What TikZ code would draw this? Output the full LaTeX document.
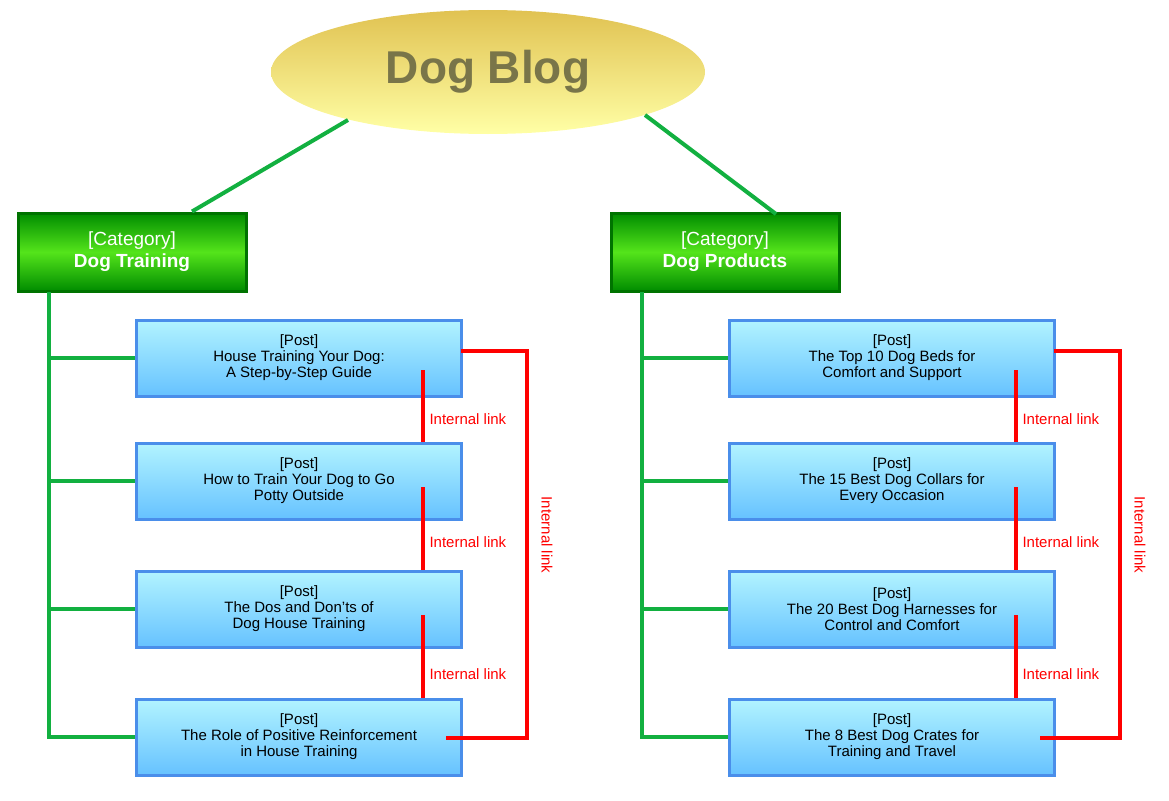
\documentclass[tikz,border=0pt]{standalone}
\usepackage{fontspec}
\setmainfont{Liberation Sans}
\usetikzlibrary{shapes.geometric,positioning,calc}
\definecolor{treegreen}{HTML}{12B040}
\definecolor{boxblue}{HTML}{4A8EEA}
\definecolor{linkred}{HTML}{FF0000}
\tikzset{
  Blog/.style={ellipse, minimum width=434pt, minimum height=124pt, top color=yellow!40!brown!80!white, bottom color=yellow!35!white, draw=none, text=yellow!40!black, font=\fontsize{46}{50}\selectfont\bfseries},
  Category/.style={draw=green!45!black, line width=3pt, minimum width=228pt, minimum height=78pt, top color=green!55!black, bottom color=green!55!black, middle color=green!70!gray!70!lime, text=white, align=center, font=\fontsize{19}{22}\selectfont},
  Post/.style={draw=boxblue, line width=3pt, minimum width=325pt, minimum height=76pt, top color=blue!15!cyan!30!white, bottom color=blue!40!cyan!60!white, align=center, font=\fontsize{15}{16}\selectfont},
  Tree/.style={treegreen, line width=4pt},
  Link/.style={linkred, line width=4pt},
  LinkLabel/.style={text=linkred, font=\fontsize{15}{16}\selectfont},
}
\begin{document}
\begin{tikzpicture}[x=1pt, y=-1pt]
\useasboundingbox (0,0) rectangle (1169,800);
\node [Blog] (blog) at (488,72) {Dog Blog};
\node [Category] (training) at (132,252) {[Category]\\\textbf{Dog Training}};
\node [Category] (products) at (725,252) {[Category]\\\textbf{Dog Products}};
\draw [Tree] (348,120) -- (training.north east -| 192,0);
\draw [Tree] (645,115) -- (776,214);
% posts
\foreach \side/\x/\tx/\ly/\lx in {t/299/49/1/423, p/892/642/2/1016} {
  \foreach \i/\y in {1/358, 2/481, 3/609, 4/737} {
    \node [Post] (\side\i) at (\x,\y) {};
  }
}
\node [align=center, font=\fontsize{15}{16}\selectfont] at (t1) {[Post]\\House Training Your Dog:\\A Step-by-Step Guide};
\node [align=center, font=\fontsize{15}{16}\selectfont] at (t2) {[Post]\\How to Train Your Dog to Go\\Potty Outside};
\node [align=center, font=\fontsize{15}{16}\selectfont] at (t3) {[Post]\\The Dos and Don'ts of\\Dog House Training};
\node [align=center, font=\fontsize{15}{16}\selectfont] at (t4) {[Post]\\The Role of Positive Reinforcement\\in House Training};
\node [align=center, font=\fontsize{15}{16}\selectfont] at (p1) {[Post]\\The Top 10 Dog Beds for\\Comfort and Support};
\node [align=center, font=\fontsize{15}{16}\selectfont] at (p2) {[Post]\\The 15 Best Dog Collars for\\Every Occasion};
\node [align=center, font=\fontsize{15}{16}\selectfont] at (p3) {[Post]\\The 20 Best Dog Harnesses for\\Control and Comfort};
\node [align=center, font=\fontsize{15}{16}\selectfont] at (p4) {[Post]\\The 8 Best Dog Crates for\\Training and Travel};
% tree lines
\draw [Tree] (49,292) |- (t4.west);
\draw [Tree] (642,292) |- (p4.west);
\foreach \i in {1,2,3} {
  \draw [Tree] (t\i.west -| 49,0) -- (t\i.west);
  \draw [Tree] (p\i.west -| 642,0) -- (p\i.west);
}
% internal links
\foreach \side/\lx/\bx/\ex/\sx in {t/423/527/446/461, p/1016/1120/1040/1054} {
  \draw [Link] (\lx,370) -- (\side2.north -| \lx,0);
  \draw [Link] (\lx,487) -- (\side3.north -| \lx,0);
  \draw [Link] (\lx,615) -- (\side4.north -| \lx,0);
  \node [LinkLabel, right] at (\lx+3,419) {Internal link};
  \node [LinkLabel, right] at (\lx+3,542) {Internal link};
  \node [LinkLabel, right] at (\lx+3,674) {Internal link};
  \draw [Link] (\sx,351) -- (\bx,351) -- (\bx,738) -- (\ex,738);
  \node [LinkLabel, rotate=-90] at (\bx+20,535) {Internal link};
}
\end{tikzpicture}
\end{document}
